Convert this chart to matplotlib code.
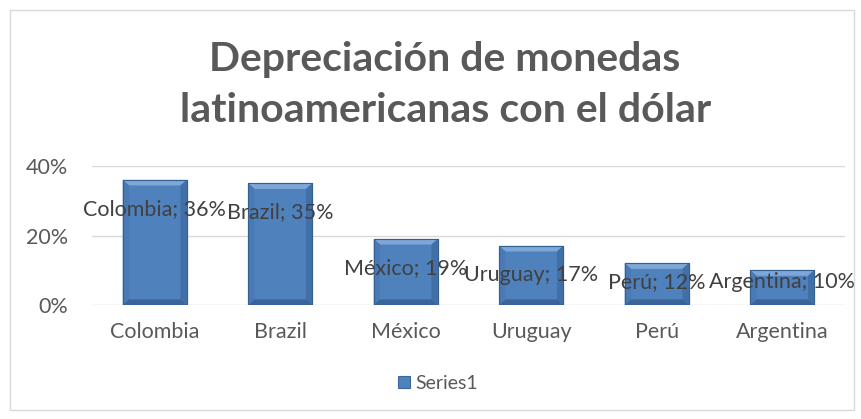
import matplotlib.pyplot as plt
from matplotlib.patches import Rectangle, Polygon
from matplotlib.ticker import FuncFormatter

paises = ['Colombia', 'Brazil', 'México', 'Uruguay', 'Perú', 'Argentina']
valores = [0.36, 0.35, 0.19, 0.17, 0.12, 0.10]
etiquetas = ['36%', '35%', '19%', '17%', '12%', '10%']

plt.rcParams['font.family'] = ['Lato', 'DejaVu Sans']
gris = '#595959'
azul = '#4F81BD'

fig = plt.figure(figsize=(8.61, 4.19), dpi=100)
fig.patches.append(Rectangle((0.012, 0.022), 0.98, 0.955, transform=fig.transFigure,
                             fill=False, edgecolor='#D9D9D9', linewidth=1))

ax = fig.add_axes([92 / 861, 1 - 305 / 419, (845 - 92) / 861, (305 - 166) / 419])
x = range(len(paises))
bars = ax.bar(x, valores, width=0.51, color=azul, edgecolor='#3A689E', linewidth=0.8,
              label='Series1', zorder=3)

# bisel tipo Excel
bx, by = 0.05, 0.016
for b in bars:
    x0, x1 = b.get_x(), b.get_x() + b.get_width()
    y1 = b.get_height()
    caras = [
        ([(x0, y1), (x1, y1), (x1 - bx, y1 - by), (x0 + bx, y1 - by)], '#7EA6D8'),
        ([(x0, 0), (x0, y1), (x0 + bx, y1 - by), (x0 + bx, by)], '#4A7AB5'),
        ([(x1, 0), (x1, y1), (x1 - bx, y1 - by), (x1 - bx, by)], '#416FA8'),
        ([(x0, 0), (x1, 0), (x1 - bx, by), (x0 + bx, by)], '#3A6398'),
    ]
    for pts, c in caras:
        ax.add_patch(Polygon(pts, closed=True, facecolor=c, edgecolor='none', zorder=3.5))
    ax.add_patch(Rectangle((x0, 0), x1 - x0, y1, fill=False, edgecolor='#34608F',
                           linewidth=0.8, zorder=3.6))

for i, v in enumerate(valores):
    y = max(v - 0.083, 0.065)
    ax.text(i, y, f'{paises[i]}; {etiquetas[i]}', ha='center', va='center',
            fontsize=15.5, color='#404040', zorder=4)

ax.set_ylim(0, 0.40)
ax.set_xlim(-0.5, len(paises) - 0.5)
ax.set_yticks([0, 0.2, 0.4])
ax.yaxis.set_major_formatter(FuncFormatter(lambda v, p: f'{v * 100:.0f}%'))
ax.set_xticks(list(x))
ax.set_xticklabels(paises)
ax.tick_params(axis='both', length=0, labelsize=15.5, colors=gris)
ax.tick_params(axis='x', pad=12)
ax.tick_params(axis='y', pad=17)
ax.grid(axis='y', color='#D9D9D9', linewidth=1, zorder=0)
for s in ax.spines.values():
    s.set_visible(False)

fig.text(0.517, 1 - 85 / 419, 'Depreciación de monedas\nlatinoamericanas con el dólar',
         ha='center', va='center', fontsize=29.5, fontweight='bold', color=gris,
         linespacing=1.45)

ax.legend(loc='center', bbox_to_anchor=(0.46, -0.565), frameon=False, fontsize=14,
          labelcolor=gris, handlelength=0.6, handleheight=0.6, handletextpad=0.3)

fig.savefig('out.png', dpi=100)
